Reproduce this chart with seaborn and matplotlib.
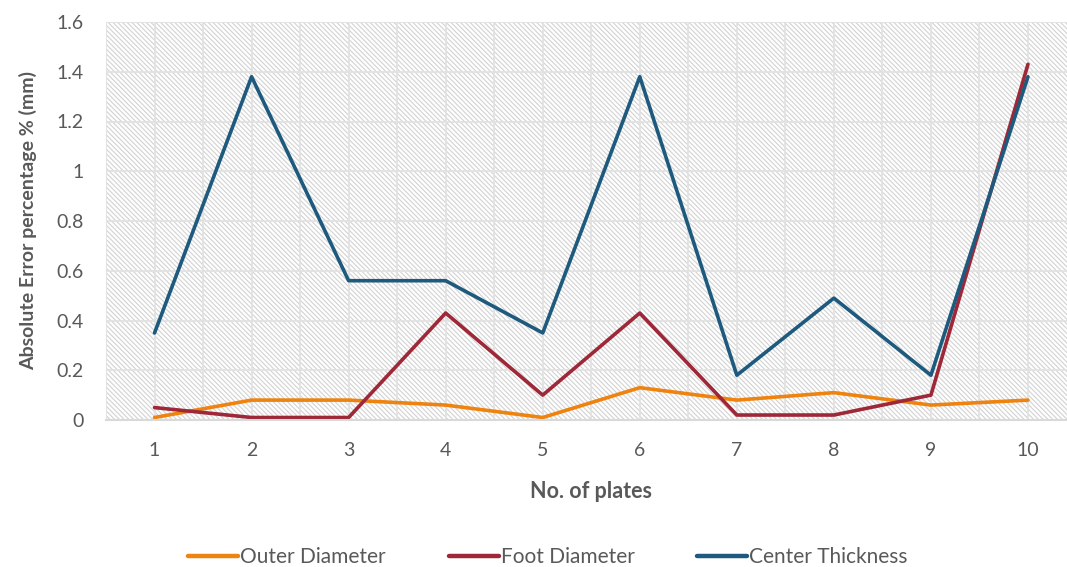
import matplotlib
matplotlib.use("Agg")
import matplotlib.pyplot as plt
import seaborn as sns
import pandas as pd
import numpy as np

plates = [1, 2, 3, 4, 5, 6, 7, 8, 9, 10]
outer_diameter = [0.01, 0.08, 0.08, 0.06, 0.01, 0.13, 0.08, 0.11, 0.06, 0.08]
foot_diameter = [0.05, 0.01, 0.01, 0.43, 0.10, 0.43, 0.02, 0.02, 0.10, 1.43]
center_thickness = [0.35, 1.38, 0.56, 0.56, 0.35, 1.38, 0.18, 0.49, 0.18, 1.38]
series_names = ["Outer Diameter", "Foot Diameter", "Center Thickness"]
colors = ["#EE830F", "#9E2837", "#1E5A7D"]
y_ticks = [0, 0.2, 0.4, 0.6, 0.8, 1, 1.2, 1.4, 1.6]
y_tick_labels = ["0", "0.2", "0.4", "0.6", "0.8", "1", "1.2", "1.4", "1.6"]

sns.set_theme(style="white")
plt.rcParams["font.family"] = ["Lato", "DejaVu Sans"]
plt.rcParams["hatch.color"] = "#d4d4d4"
plt.rcParams["hatch.linewidth"] = 0.85

df = pd.DataFrame({
    "plate": plates * 3,
    "value": outer_diameter + foot_diameter + center_thickness,
    "series": [series_names[0]] * 10 + [series_names[1]] * 10 + [series_names[2]] * 10,
})

fig = plt.figure(figsize=(10.67, 5.67), dpi=100)
ax = fig.add_axes([106 / 1067, 1 - 420 / 567, (1076.5 - 106) / 1067, (420 - 22) / 567])

# hatched plot background
ax.patch.set_facecolor("white")
ax.patch.set_hatch("\\" * 7)
ax.patch.set_edgecolor("#d4d4d4")

sns.lineplot(data=df, x="plate", y="value", hue="series", palette=colors,
             hue_order=series_names, linewidth=2.6, ax=ax, legend=True)

ax.set_xlim(0.5, 10.5)
ax.set_ylim(0, 1.6)
ax.set_xticks(plates)
ax.set_xticklabels([str(p) for p in plates])
ax.set_xticks(np.arange(0.5, 11, 1.0), minor=True)
ax.set_yticks(y_ticks)
ax.set_yticklabels(y_tick_labels)

ax.grid(True, which="major", axis="both", color="#e2e2e2", linewidth=1.3)
ax.grid(True, which="minor", axis="x", color="#e2e2e2", linewidth=1.3)
ax.set_axisbelow(True)
ax.tick_params(axis="both", which="both", length=0, labelsize=14, labelcolor="#595959")
ax.tick_params(axis="x", pad=16)
ax.tick_params(axis="y", pad=16)

for side in ["top", "right", "left"]:
    ax.spines[side].set_visible(False)
ax.spines["bottom"].set_color("#d9d9d9")
ax.spines["bottom"].set_linewidth(1.5)

ax.set_xlabel("No. of plates", fontsize=15.5, fontweight="bold", color="#595959", labelpad=16)
ax.set_ylabel("Absolute Error percentage % (mm)", fontsize=14, fontweight="bold",
              color="#595959", labelpad=14)

handles, labels = ax.get_legend_handles_labels()
ax.get_legend().remove()
fig.legend(handles, labels, loc="center", bbox_to_anchor=(548 / 1067, 1 - 557 / 567),
           ncol=3, frameon=False, fontsize=15, labelcolor="#595959",
           handlelength=2.4, handletextpad=0.1, columnspacing=3.0)
for line in fig.legends[0].get_lines():
    line.set_linewidth(3.2)

fig.savefig("out.png", dpi=100)
